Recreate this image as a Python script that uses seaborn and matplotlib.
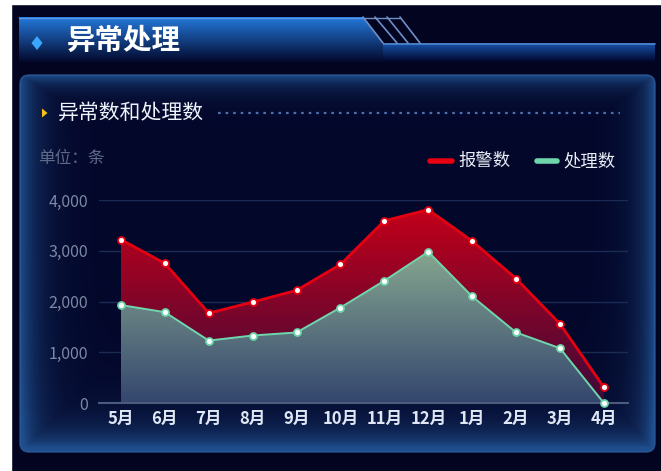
import numpy as np
import pandas as pd
import matplotlib
matplotlib.use("Agg")
import matplotlib.pyplot as plt
import seaborn as sns
from matplotlib.patches import Polygon, FancyBboxPatch, Rectangle
from matplotlib.colors import to_rgb

# ---------------- data ----------------
months = ['5月', '6月', '7月', '8月', '9月', '10月', '11月', '12月', '1月', '2月', '3月', '4月']
alarm = [3220, 2750, 1770, 1990, 2220, 2730, 3590, 3810, 3190, 2450, 1560, 310]
handled = [1930, 1790, 1230, 1330, 1390, 1880, 2410, 2980, 2100, 1390, 1080, 0]
series_names = ['报警数', '处理数']
yticks = [0, 1000, 2000, 3000, 4000]
title_text = '异常处理'
subtitle_text = '异常数和处理数'
unit_text = '单位：条'

# ---------------- style ----------------
sns.set_style('dark')
plt.rcParams['font.family'] = ['Noto Sans CJK SC', 'DejaVu Sans']
plt.rcParams['axes.unicode_minus'] = False

W, H = 661, 471
fig = plt.figure(figsize=(W / 100, H / 100), dpi=100)
fig.patch.set_facecolor('#020420')

bg = fig.add_axes([0, 0, 1, 1])
bg.set_zorder(0)
bg.axis('off')


def grad_img(c_top, c_bot, n=256, a_top=1.0, a_bot=1.0):
    t = np.linspace(0, 1, n)[:, None]
    ct = np.array(to_rgb(c_top))
    cb = np.array(to_rgb(c_bot))
    rgb = ct * (1 - t) + cb * t
    a = a_top * (1 - t) + a_bot * t
    return np.concatenate([rgb, a], axis=1)[:, None, :]


# white border strips (top-left)
bg.add_patch(Rectangle((0, 0), 11, H, color='white', zorder=50))
bg.add_patch(Rectangle((0, 0), W, 4, color='white', zorder=50))

# ---------- header ----------
im = bg.imshow(grad_img('#1652ac', '#020628'), extent=(19, 655, 62, 43),
               aspect='auto', zorder=2, interpolation='bilinear')
bg.plot([383, 655], [43.5, 43.5], color='#4f86cc', lw=1.2, zorder=3)
banner = Polygon([(19, 17), (363, 17), (383, 43), (383, 62), (19, 62)], closed=True,
                 facecolor='none', edgecolor='none')
bg.add_patch(banner)
im = bg.imshow(grad_img('#2479dc', '#03082c'), extent=(19, 383, 62, 17),
               aspect='auto', zorder=3, interpolation='bilinear')
im.set_clip_path(banner)
bg.plot([19, 363], [17.5, 17.5], color='#5a9ae6', lw=1.0, zorder=4)
for xt, xb in [(363, 383), (375, 397), (387, 408), (400, 420)]:
    bg.plot([xt, xb], [17, 43], color='#6f8fc6', lw=1.2, zorder=4)
bg.plot([363, 400], [17.5, 17.5], color='#6f8fc6', lw=1.0, zorder=4)
bg.add_patch(Polygon([(37, 36), (42.5, 43), (37, 50), (31.5, 43)], closed=True,
                     facecolor='#39a6ff', edgecolor='none', zorder=5))
bg.text(67, 41, title_text, color='white', fontsize=20.5, fontweight='bold',
        va='center', ha='left', zorder=6)

# ---------- panel ----------
px0, px1, py0, py1 = 20, 655, 75, 452
pw, ph = px1 - px0, py1 - py0
xx = np.arange(pw) + 0.5
yy = np.arange(ph) + 0.5
X, Y = np.meshgrid(xx, yy)
g = np.maximum.reduce([np.exp(-X / 18), np.exp(-(pw - X) / 15),
                       np.exp(-Y / 11), np.exp(-(ph - Y) / 17)])
g = np.clip(g + 0.25 * np.exp(-(ph - Y) / 40), 0, 1)
c_in = np.array(to_rgb('#03072a'))
c_edge = np.array(to_rgb('#1f4e8c'))
panel_rgb = c_in[None, None, :] * (1 - g[..., None]) + c_edge[None, None, :] * g[..., None]
panel_patch = FancyBboxPatch((px0, py0), pw, ph, boxstyle='round,pad=0,rounding_size=9',
                             facecolor='none', edgecolor='#2d5e9e', lw=1.0, alpha=0.8, zorder=2)
bg.add_patch(panel_patch)
im = bg.imshow(panel_rgb, extent=(px0, px1, py1, py0), aspect='auto', zorder=1,
               interpolation='bilinear')
im.set_clip_path(panel_patch)

bg.add_patch(Polygon([(42, 108.5), (47.5, 113), (42, 117.5)], closed=True,
                     facecolor='#f4c21c', edgecolor='none', zorder=5))
bg.text(58, 113, subtitle_text, color='#eef3fb', fontsize=15, va='center', ha='left', zorder=5)
bg.plot([218, 620], [112.5, 112.5], color='#4b6fae', lw=1.6, ls=(0, (1.2, 2.2)), zorder=5)
bg.text(38, 158, unit_text, color='#5f6a8a', fontsize=12, va='center', ha='left', zorder=5)

leg_colors = ['#e60012', '#6fd6ac']
for (x0, x1, xt), name, c in zip([(430, 452, 458), (537, 557, 563)], series_names, leg_colors):
    bg.plot([x0, x1], [161, 161], color=c, lw=4, solid_capstyle='round', zorder=5)
    bg.text(xt, 161, name, color='#e8edf6', fontsize=12.5, va='center', ha='left', zorder=5)

bg.set_xlim(0, W)
bg.set_ylim(H, 0)

# ---------- main chart ----------
ax = fig.add_axes([99 / W, (H - 403) / H, (628 - 99) / W, (403 - 200) / H])
ax.set_zorder(3)
ax.patch.set_alpha(0)

idx = list(range(len(months)))
df = pd.DataFrame({
    'idx': idx * 2,
    'value': alarm + handled,
    'series': [series_names[0]] * len(months) + [series_names[1]] * len(months),
})


def grad_fill(ax, x, y, c_top, c_bot, zorder):
    poly = ax.fill_between(x, y, 0, color='none', lw=0)
    ymax = max(y)
    im = ax.imshow(grad_img(c_top, c_bot), extent=(min(x), max(x), 0, ymax), origin='upper',
                   aspect='auto', zorder=zorder, interpolation='bilinear')
    im.set_clip_path(poly.get_paths()[0], transform=ax.transData)


grad_fill(ax, idx, alarm, '#c2001a', '#3c0a3a', 1.2)
grad_fill(ax, idx, handled, '#86a68f', '#34466e', 1.4)

for name, c, lw in zip(series_names, leg_colors, [2.0, 1.4]):
    sub = df[df['series'] == name]
    sns.lineplot(data=sub, x='idx', y='value', color=c, lw=lw, marker='o', markersize=5,
                 markerfacecolor='white', markeredgecolor=c, markeredgewidth=1.3,
                 ax=ax, legend=False, errorbar=None, sort=False, zorder=4, clip_on=False)

ax.set_xlim(-0.5, 11.55)
ax.set_ylim(0, 4000)
ax.set_yticks(yticks)
ax.set_yticklabels([f'{v:,}' for v in yticks])
ax.set_xticks(idx)
ax.set_xticklabels(months)
ax.set_xlabel('')
ax.set_ylabel('')
ax.grid(axis='y', color='#1c2b54', lw=1)
ax.grid(axis='x', visible=False)
ax.set_axisbelow(True)
for s in ['top', 'right', 'left']:
    ax.spines[s].set_visible(False)
ax.spines['bottom'].set_color('#4c5a7c')
ax.spines['bottom'].set_linewidth(1.5)
ax.tick_params(axis='y', colors='#7d88a4', labelsize=11.5, length=0, pad=8)
ax.tick_params(axis='x', colors='#e0e7f4', labelsize=12, length=0, pad=5)
for lab in ax.get_xticklabels():
    lab.set_fontweight('bold')

fig.savefig('out.png', dpi=100, facecolor=fig.get_facecolor())
